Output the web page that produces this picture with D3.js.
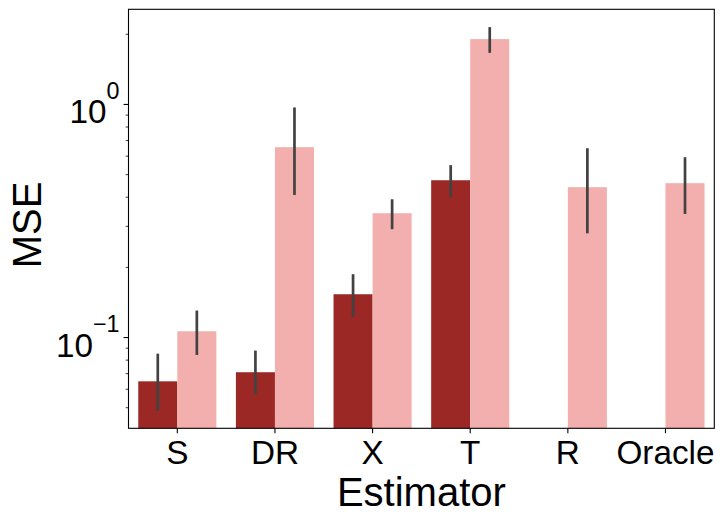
<!DOCTYPE html>
<html>
<head>
<meta charset="utf-8">
<script src="https://cdn.jsdelivr.net/npm/d3@7"></script>
<style>
  html, body { margin: 0; padding: 0; background: #fff; }
  svg { display: block; font-family: "Liberation Sans", Arial, sans-serif; }
</style>
</head>
<body>
<svg id="chart" width="726" height="524"></svg>
<script>
// ---- data ----
const categories = ["S", "DR", "X", "T", "R", "Oracle"];
const groups = ["a", "b"];
const seriesA = [0.0649, 0.0710, 0.1534, 0.473, null, null];
const seriesALo = [0.0484, 0.0573, 0.1226, 0.400, null, null];
const seriesAHi = [0.0853, 0.0879, 0.187, 0.549, null, null];
const seriesB = [0.1064, 0.6557, 0.3415, 1.907, 0.4416, 0.4595];
const seriesBLo = [0.0842, 0.409, 0.2915, 1.665, 0.280, 0.339];
const seriesBHi = [0.1306, 0.971, 0.392, 2.147, 0.649, 0.594];
const majorTicks = [0.1, 1];
const majorTickExp = ["\u22121", "0"];
const minorTicks = [0.05, 0.06, 0.07, 0.08, 0.09, 0.2, 0.3, 0.4, 0.5, 0.6, 0.7, 0.8, 0.9, 2];
const xLabel = "Estimator";
const yLabel = "MSE";

// ---- layout ----
const L = 128.5, R = 714.3, T = 9.3, B = 428.3;
const colors = { a: "#9c2826", b: "#f3afad" };
const errColor = "#424242";

const svg = d3.select("#chart");

const x = d3.scaleBand().domain(categories).range([L, R]).paddingInner(0).paddingOuter(0);
const y = d3.scaleLog().domain([0.0408, 2.56]).range([B, T]);
const groupW = x.bandwidth() * 0.8;
const xs = d3.scaleBand().domain(groups).range([0, groupW]);

const rows = [];
categories.forEach((c, i) => {
  if (seriesA[i] != null) rows.push({ c, g: "a", v: seriesA[i], lo: seriesALo[i], hi: seriesAHi[i] });
  if (seriesB[i] != null) rows.push({ c, g: "b", v: seriesB[i], lo: seriesBLo[i], hi: seriesBHi[i] });
});

const barX = d => x(d.c) + (x.bandwidth() - groupW) / 2 + xs(d.g);

svg.append("g").selectAll("rect").data(rows).join("rect")
  .attr("x", barX)
  .attr("width", xs.bandwidth())
  .attr("y", d => y(d.v))
  .attr("height", d => B - y(d.v))
  .attr("fill", d => colors[d.g]);

svg.append("g").selectAll("line").data(rows).join("line")
  .attr("x1", d => barX(d) + xs.bandwidth() / 2)
  .attr("x2", d => barX(d) + xs.bandwidth() / 2)
  .attr("y1", d => y(d.lo))
  .attr("y2", d => y(d.hi))
  .attr("stroke", errColor)
  .attr("stroke-width", 2.7);

// frame
svg.append("rect")
  .attr("x", L).attr("y", T).attr("width", R - L).attr("height", B - T)
  .attr("fill", "none").attr("stroke", "#000").attr("stroke-width", 1.1);

// y ticks
const yt = svg.append("g");
yt.selectAll("line.maj").data(majorTicks).join("line").attr("class", "maj")
  .attr("x1", L - 4.9).attr("x2", L)
  .attr("y1", d => y(d)).attr("y2", d => y(d))
  .attr("stroke", "#000").attr("stroke-width", 1.1);
yt.selectAll("line.min").data(minorTicks).join("line").attr("class", "min")
  .attr("x1", L - 2.8).attr("x2", L)
  .attr("y1", d => y(d)).attr("y2", d => y(d))
  .attr("stroke", "#000").attr("stroke-width", 0.8);
const labs = yt.selectAll("text").data(majorTicks).join("text")
  .attr("x", 119.5)
  .attr("y", d => y(d) + 19)
  .attr("text-anchor", "end")
  .attr("font-size", 33.3)
  .attr("fill", "#000");
labs.append("tspan").text("10");
labs.append("tspan").attr("font-size", 23.3).attr("dy", -24.5).text((d, i) => majorTickExp[i]);

// x ticks
const xt = svg.append("g");
xt.selectAll("line").data(categories).join("line")
  .attr("x1", d => x(d) + x.bandwidth() / 2).attr("x2", d => x(d) + x.bandwidth() / 2)
  .attr("y1", B).attr("y2", B + 4.9)
  .attr("stroke", "#000").attr("stroke-width", 1.1);
xt.selectAll("text").data(categories).join("text")
  .attr("x", d => x(d) + x.bandwidth() / 2)
  .attr("y", 464)
  .attr("text-anchor", "middle")
  .attr("font-size", 33.3)
  .attr("fill", "#000")
  .text(d => d);

// axis labels
svg.append("text")
  .attr("x", (L + R) / 2).attr("y", 505.7)
  .attr("text-anchor", "middle").attr("font-size", 40).attr("fill", "#000")
  .text(xLabel);
svg.append("text")
  .attr("transform", "translate(40.7,225) rotate(-90)")
  .attr("text-anchor", "middle").attr("font-size", 40).attr("fill", "#000")
  .text(yLabel);
</script>
</body>
</html>
